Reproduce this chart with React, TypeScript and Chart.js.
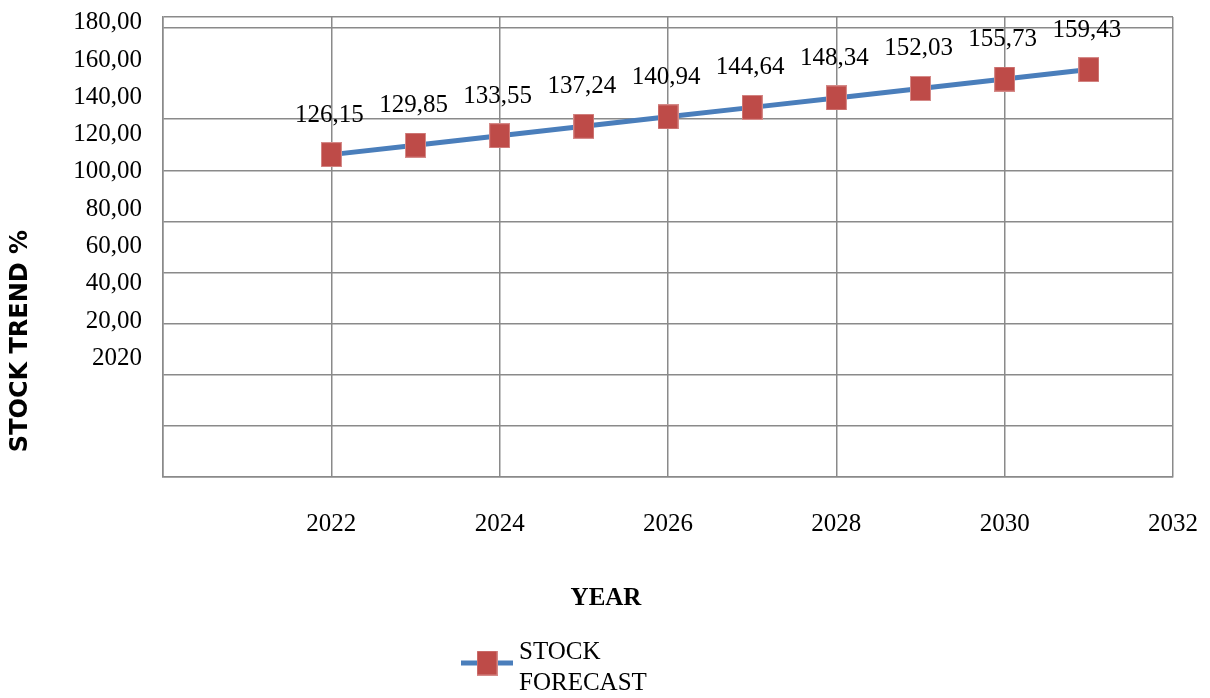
import React, { useEffect, useRef } from 'react';
import { Chart, registerables } from 'chart.js';

Chart.register(...registerables);

// ---- data ----
const years = [2022, 2023, 2024, 2025, 2026, 2027, 2028, 2029, 2030, 2031];
const stockForecast = [126.15, 129.85, 133.55, 137.24, 140.94, 144.64, 148.34, 152.03, 155.73, 159.43];
const xTickYears = [2020, 2022, 2024, 2026, 2028, 2030, 2032];
const yLabelValues = [180, 160, 140, 120, 100, 80, 60, 40, 20, 0];
const yLabelTexts = ['180,00', '160,00', '140,00', '120,00', '100,00', '80,00', '60,00', '40,00', '20,00', '2020'];
const yGridValues = [0, 20, 40, 60, 80, 100, 120, 140, 175.7, 180];
const seriesLabel = ['STOCK', 'FORECAST'];
const yTitle = 'STOCK TREND %';
const xTitle = 'YEAR';

const SERIF = '"Liberation Serif", "Times New Roman", serif';
const LINE_BLUE = '#4A7EBB';
const MARK_RED = '#BE4B48';
const GRID = '#8A8A8A';

const fmt = (v: number) => v.toFixed(2).replace('.', ',');

function makeMarker(): HTMLCanvasElement {
  const c = document.createElement('canvas');
  c.width = 21;
  c.height = 25;
  const g = c.getContext('2d')!;
  g.fillStyle = '#D58A88';
  g.fillRect(0, 0, 21, 25);
  g.fillStyle = MARK_RED;
  g.fillRect(1, 1, 19, 23);
  return c;
}

const zeroPad = (axis: any) => {
  axis.paddingLeft = 0;
  axis.paddingRight = 0;
  axis.paddingTop = 0;
  axis.paddingBottom = 0;
};

export default function App() {
  const ref = useRef<HTMLCanvasElement | null>(null);

  useEffect(() => {
    if (!ref.current) return;
    const marker = makeMarker();

    const overlay = {
      id: 'overlay',
      afterDraw(chart: any) {
        const ctx = chart.ctx as CanvasRenderingContext2D;
        const meta = chart.getDatasetMeta(0);
        ctx.save();
        // data labels
        ctx.fillStyle = '#000';
        ctx.font = `25px ${SERIF}`;
        ctx.textAlign = 'center';
        ctx.textBaseline = 'alphabetic';
        meta.data.forEach((el: any, i: number) => {
          ctx.fillText(fmt(stockForecast[i]), el.x - 2, el.y - 33);
        });
        // x title
        ctx.font = `bold 25px ${SERIF}`;
        ctx.fillText(xTitle, chart.width / 2 + 1, 605);
        // y title
        ctx.save();
        ctx.translate(21, 341);
        ctx.rotate(-Math.PI / 2);
        ctx.font = 'bold 24px "DejaVu Sans", sans-serif';
        ctx.textAlign = 'center';
        ctx.textBaseline = 'middle';
        ctx.fillText(yTitle, 0, 0);
        ctx.restore();
        // legend
        const lx = 461;
        const ly = 663;
        ctx.strokeStyle = LINE_BLUE;
        ctx.lineWidth = 5;
        ctx.beginPath();
        ctx.moveTo(lx, ly);
        ctx.lineTo(lx + 52, ly);
        ctx.stroke();
        ctx.drawImage(marker, lx + 26 - 10.5, ly - 12.5);
        ctx.font = `25px ${SERIF}`;
        ctx.textAlign = 'left';
        ctx.textBaseline = 'alphabetic';
        ctx.fillText(seriesLabel[0], 519, 659);
        ctx.fillText(seriesLabel[1], 519, 690);
        ctx.restore();
      },
    };

    const chart = new Chart(ref.current, {
      type: 'line',
      data: {
        datasets: [
          {
            label: seriesLabel.join(' '),
            data: years.map((y, i) => ({ x: y, y: stockForecast[i] })),
            borderColor: LINE_BLUE,
            backgroundColor: MARK_RED,
            borderWidth: 5,
            pointStyle: marker as any,
            pointRadius: 12,
            tension: 0,
          },
        ],
      },
      options: {
        animation: false,
        responsive: false,
        layout: { padding: { top: 14, right: 37, left: 0, bottom: 0 } },
        plugins: {
          legend: { display: false },
          tooltip: { enabled: false },
          title: { display: false },
        },
        scales: {
          x: {
            type: 'linear',
            position: 'bottom',
            min: 2020,
            max: 2032,
            afterBuildTicks: (axis: any) => {
              axis.ticks = xTickYears.map((v) => ({ value: v }));
            },
            afterFit: (axis: any) => {
              axis.height = 221;
              zeroPad(axis);
            },
            ticks: {
              callback: (v: any) => (v === 2020 ? '' : String(v)),
              color: '#000',
              font: { family: SERIF, size: 25 },
              padding: 32,
              maxRotation: 0,
              autoSkip: false,
            },
            grid: { color: GRID, lineWidth: 1.5, drawTicks: false },
            border: { display: true, color: GRID, width: 1.5 },
          },
          y: {
            type: 'linear',
            position: 'left',
            min: 0,
            max: 180,
            afterBuildTicks: (axis: any) => {
              axis.ticks = yGridValues.map((v) => ({ value: v }));
            },
            afterFit: (axis: any) => {
              axis.width = 0;
              zeroPad(axis);
            },
            ticks: { display: false },
            grid: { color: GRID, lineWidth: 1.5, drawTicks: false },
            border: { display: true, color: GRID, width: 1.5 },
          },
          yLabels: {
            type: 'linear',
            position: 'left',
            min: -63.7,
            max: 183.1,
            afterBuildTicks: (axis: any) => {
              axis.ticks = yLabelValues.map((v) => ({ value: v }));
            },
            afterFit: (axis: any) => {
              axis.width = 163;
              zeroPad(axis);
            },
            ticks: {
              callback: (v: any) => {
                const i = yLabelValues.indexOf(Number(v));
                return i >= 0 ? yLabelTexts[i] : '';
              },
              color: '#000',
              font: { family: SERIF, size: 25 },
              padding: 21,
              autoSkip: false,
            },
            grid: { display: false, drawTicks: false },
            border: { display: false },
          },
        },
      },
      plugins: [overlay],
    } as any);

    return () => chart.destroy();
  }, []);

  return (
    <div style={{ position: 'fixed', left: 0, top: 0, width: 1210, height: 698, background: '#fff' }}>
      <canvas ref={ref} width={1210} height={698} style={{ display: 'block', width: 1210, height: 698 }} />
    </div>
  );
}
